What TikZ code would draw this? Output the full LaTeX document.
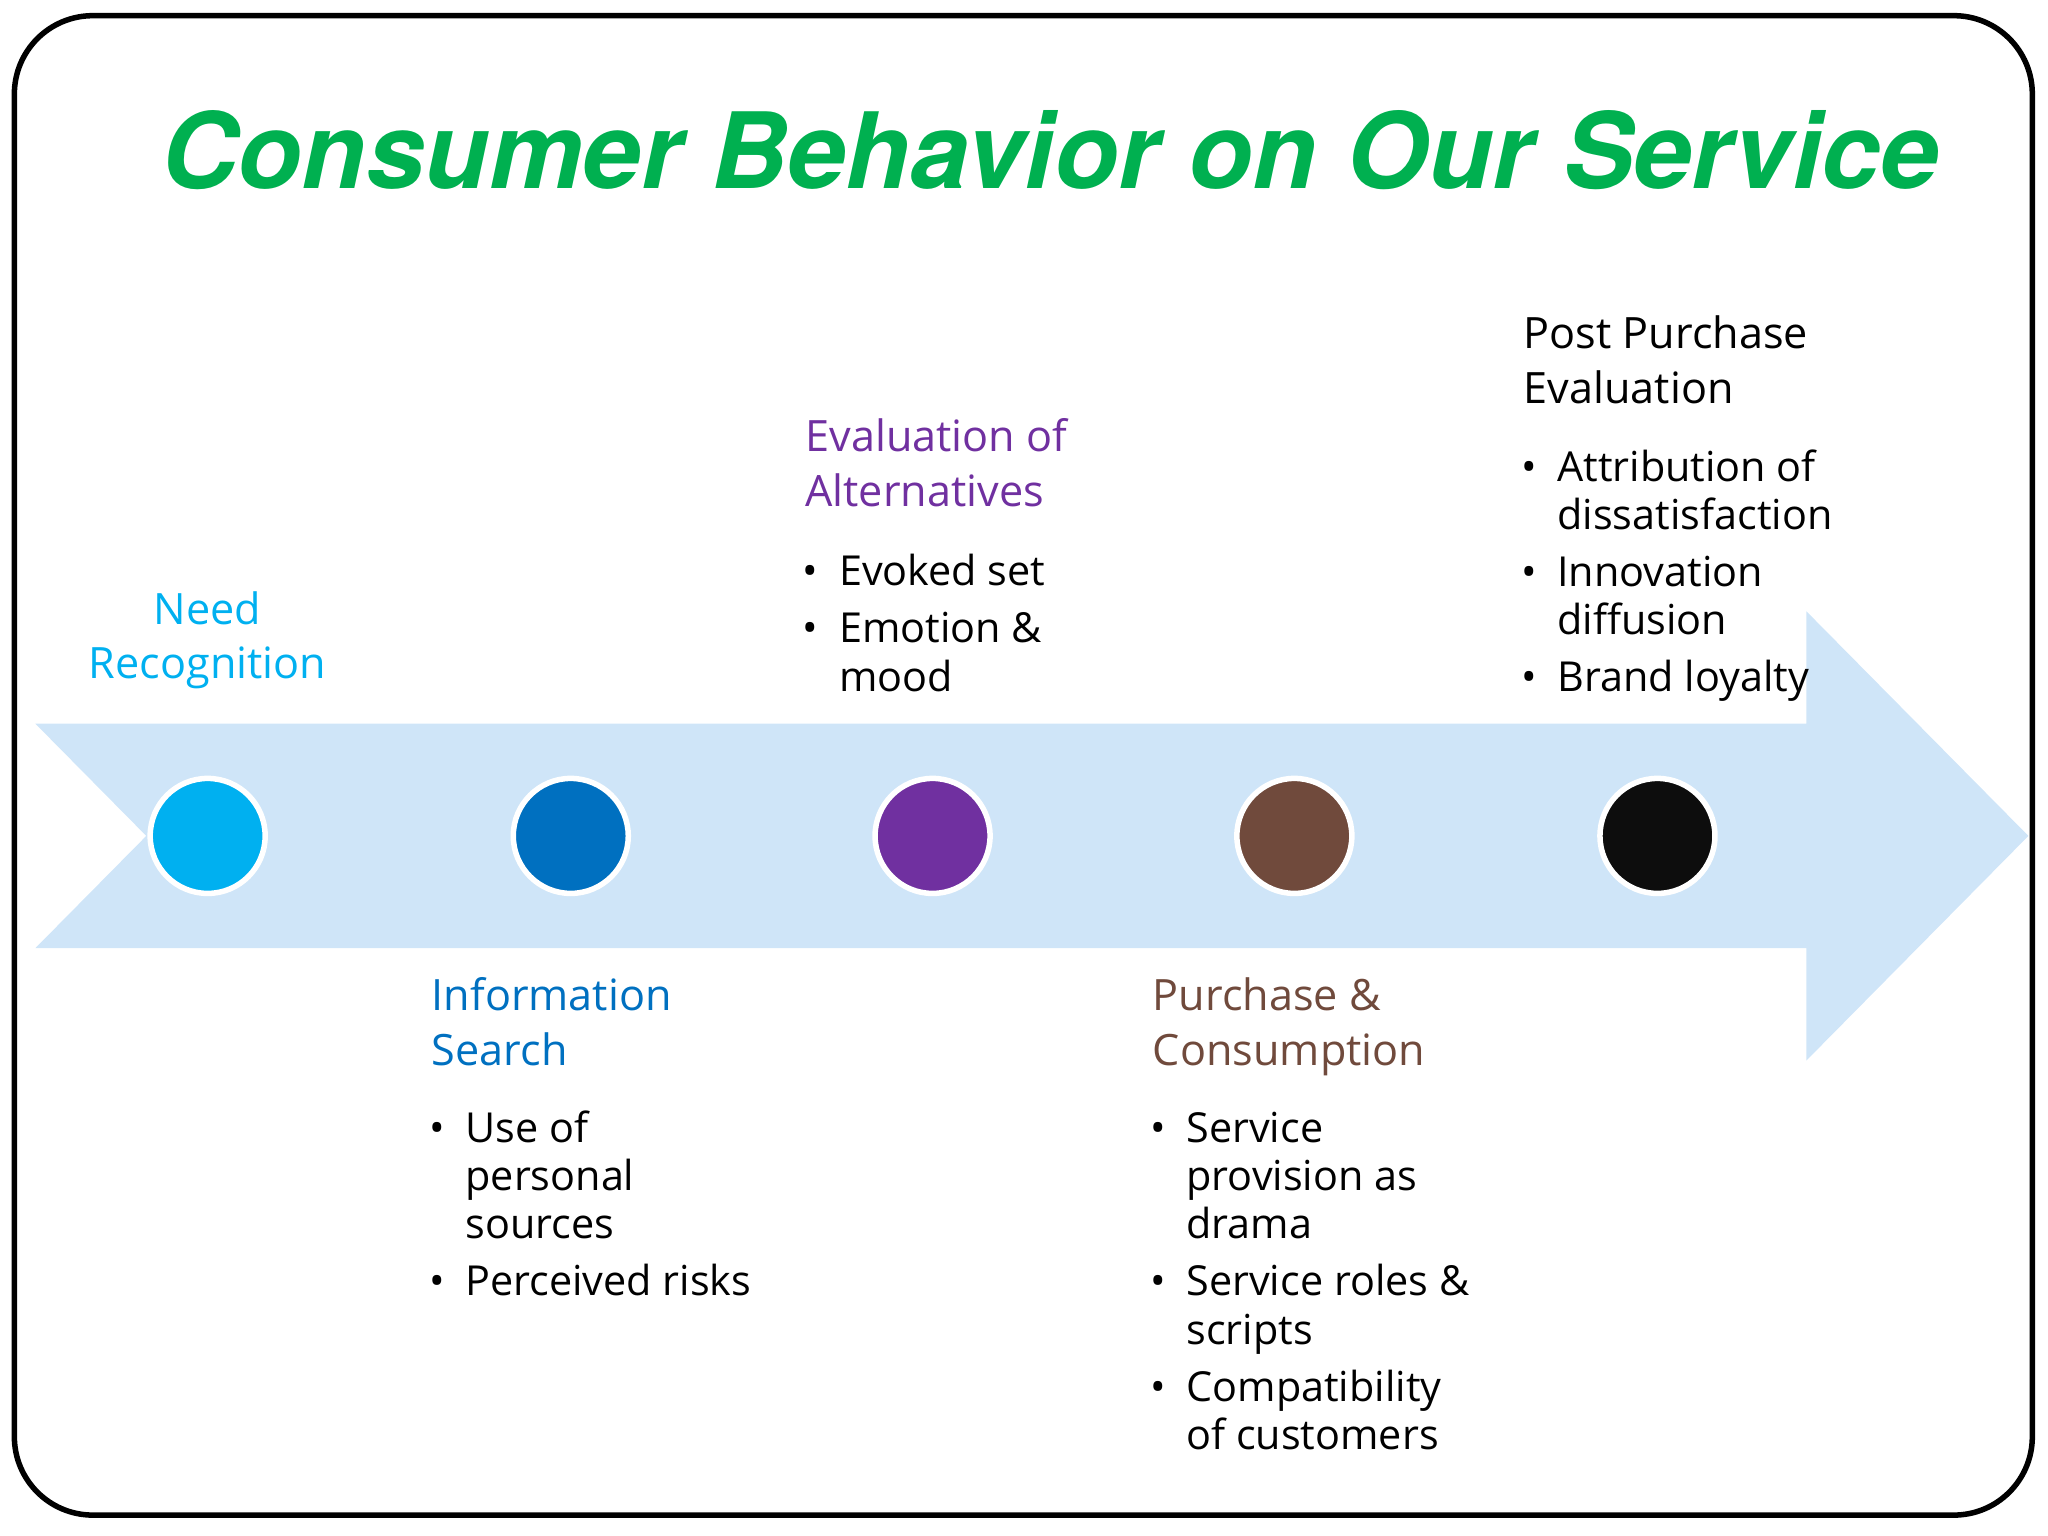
\documentclass[tikz,border=0pt]{standalone}
\usepackage{fontspec}
\setmainfont{Open Sans}
\newfontfamily\titlefont{TeX Gyre Heros}
\usepackage{graphicx}
\begin{document}
\begin{tikzpicture}[x=0.01cm,y=-0.01cm,
  dot/.style={circle,minimum size=0.88cm,inner sep=0,draw=white,line width=1.2pt},
  lbl/.style={anchor=north west,inner sep=0,align=left,font=\fontsize{9.4}{11.9}\selectfont},
  bl/.style={anchor=north west,inner sep=0,font=\fontsize{9}{10.5}\selectfont}]
\useasboundingbox (0,0) rectangle (1568,1176);
\definecolor{arr}{HTML}{CFE5F8}
\definecolor{c1}{HTML}{00B0F0}\definecolor{c2}{HTML}{0070C0}\definecolor{c3}{HTML}{7030A0}
\definecolor{c4}{HTML}{704A3C}\definecolor{c5}{HTML}{0D0D0D}\definecolor{tg}{HTML}{00B050}
\draw[line width=1.2pt,rounded corners=0.6cm] (11,12) rectangle (1556,1160);
\node (title) at (804,115) {\resizebox{13.6cm}{!}{\titlefont\bfseries\itshape\color{tg}Consumer Behavior on Our Service}};
\fill[arr] (27,554) -- (1383,554) -- (1383,468) -- (1553,640) -- (1383,812) -- (1383,726) -- (27,726) -- (112,640) -- cycle;
\node[dot,fill=c1] (d1) at (159,640) {};
\node[dot,fill=c2] (d2) at (437,640) {};
\node[dot,fill=c3] (d3) at (714,640) {};
\node[dot,fill=c4] (d4) at (991,640) {};
\node[dot,fill=c5] (d5) at (1269,640) {};
\node[lbl,anchor=north,align=center,text=c1] (h1) at (159,452) {Need\\Recognition};
\node[lbl,text=c2] (h2) at (330,748) {Information\\Search};
\node[lbl,text=c3] (h3) at (616,320) {Evaluation of\\Alternatives};
\node[lbl,text=c4] (h4) at (882,748) {Purchase \&\\Consumption};
\node[lbl,text=black] (h5) at (1166,241) {Post Purchase\\Evaluation};
\node[bl] (b2) at (328,848) {\begin{tabular}{@{}l@{\hspace{0.5em}}l@{}}
\textbullet & Use of\\ & personal\\ & sources\\[0.4ex] \textbullet & Perceived risks\end{tabular}};
\node[bl] (b3) at (614,422) {\begin{tabular}{@{}l@{\hspace{0.5em}}l@{}}
\textbullet & Evoked set\\[0.4ex] \textbullet & Emotion \&\\ & mood\end{tabular}};
\node[bl] (b4) at (880,848) {\begin{tabular}{@{}l@{\hspace{0.5em}}l@{}}
\textbullet & Service\\ & provision as\\ & drama\\[0.4ex] \textbullet & Service roles \&\\ & scripts\\[0.4ex] \textbullet & Compatibility\\ & of customers\end{tabular}};
\node[bl] (b5) at (1164,342) {\begin{tabular}{@{}l@{\hspace{0.5em}}l@{}}
\textbullet & Attribution of\\ & dissatisfaction\\[0.4ex] \textbullet & Innovation\\ & diffusion\\[0.4ex] \textbullet & Brand loyalty\end{tabular}};
\end{tikzpicture}
\end{document}
